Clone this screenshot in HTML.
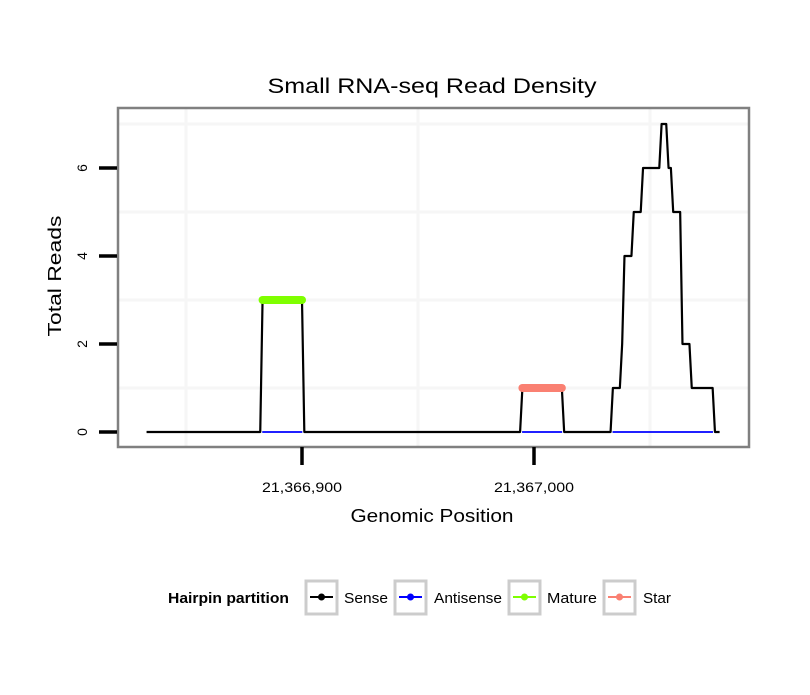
<!DOCTYPE html>
<html><head><meta charset="utf-8"><style>
body{margin:0;background:#fff}
svg text{font-family:"Liberation Sans",sans-serif}
</style></head><body>
<svg id="c" width="810" height="690" xmlns="http://www.w3.org/2000/svg">
<rect width="810" height="690" fill="#fff"/>
<g id="grid"></g>
<g id="series"></g>
<rect x="118" y="108" width="631" height="339" fill="none" stroke="#808080" stroke-width="2.5"/>
<g id="axes"></g>
<text x="432" y="93" font-size="21" text-anchor="middle" textLength="329" lengthAdjust="spacingAndGlyphs">Small RNA-seq Read Density</text>
<text x="432" y="522" font-size="18" text-anchor="middle" textLength="163" lengthAdjust="spacingAndGlyphs">Genomic Position</text>
<text x="61" y="276" font-size="18" text-anchor="middle" textLength="121" lengthAdjust="spacingAndGlyphs" transform="rotate(-90 61 276)">Total Reads</text>
<g>
<text x="168" y="603" font-size="14.5" font-weight="bold" textLength="121" lengthAdjust="spacingAndGlyphs">Hairpin partition</text>
<g><rect x="306" y="581" width="31" height="33" fill="#fff" stroke="#ccc" stroke-width="3"/><line x1="310" y1="597" x2="333" y2="597" stroke="#000" stroke-width="2"/><circle cx="321.5" cy="597" r="3.5" fill="#000"/><text x="344" y="603" font-size="14.5" textLength="44" lengthAdjust="spacingAndGlyphs">Sense</text></g>
<g><rect x="395" y="581" width="31" height="33" fill="#fff" stroke="#ccc" stroke-width="3"/><line x1="399" y1="597" x2="422" y2="597" stroke="#00f" stroke-width="2"/><circle cx="410.5" cy="597" r="3.5" fill="#00f"/><text x="434" y="603" font-size="14.5" textLength="68" lengthAdjust="spacingAndGlyphs">Antisense</text></g>
<g><rect x="509" y="581" width="31" height="33" fill="#fff" stroke="#ccc" stroke-width="3"/><line x1="513" y1="597" x2="536" y2="597" stroke="#7fff00" stroke-width="2"/><circle cx="524.5" cy="597" r="3.5" fill="#7fff00"/><text x="547" y="603" font-size="14.5" textLength="50" lengthAdjust="spacingAndGlyphs">Mature</text></g>
<g><rect x="604" y="581" width="31" height="33" fill="#fff" stroke="#ccc" stroke-width="3"/><line x1="608" y1="597" x2="631" y2="597" stroke="#fa8072" stroke-width="2"/><circle cx="619.5" cy="597" r="3.5" fill="#fa8072"/><text x="643" y="603" font-size="14.5" textLength="28" lengthAdjust="spacingAndGlyphs">Star</text></g>
</g>
</svg>
<script>
// data
const startPos = 21366833;
const endPos = 21367080;
const matureRange = [21366883, 21366900];
const matureValue = 3;
const starRange = [21366995, 21367012];
const starValue = 1;
const peakStart = 21367033;
const peakValues = [0,1,1,1,1,2,4,4,4,4,5,5,5,5,6,6,6,6,6,6,6,6,7,7,7,6,6,5,5,5,5,2,2,2,2,1,1,1,1,1,1,1,1,1,1,0,0,0];
const antisenseRanges = [[21366882,21366901],[21366994,21367013],[21367033,21367078]];
const xTicks = [21366900, 21367000];
const xTickLabels = ["21,366,900", "21,367,000"];
const yTicks = [0, 2, 4, 6];
const yMinorGrid = [1, 3, 5, 7];
const xMinorGrid = [21366850, 21366950, 21367050];

const NS = "http://www.w3.org/2000/svg";
const X = p => 302 + (p - 21366900) * 2.32;
const Y = v => 432 - v * 44;
function mk(tag, attrs, parent) {
  const e = document.createElementNS(NS, tag);
  for (const k in attrs) e.setAttribute(k, attrs[k]);
  document.getElementById(parent).appendChild(e);
  return e;
}
const sense = [];
for (let p = startPos; p <= endPos; p++) {
  let v = 0;
  if (p >= matureRange[0] && p <= matureRange[1]) v = matureValue;
  if (p >= starRange[0] && p <= starRange[1]) v = starValue;
  const i = p - peakStart;
  if (i >= 0 && i < peakValues.length) v = peakValues[i];
  sense.push([p, v]);
}
// grid (only minor lines visible, very faint)
yMinorGrid.forEach(v => {
  const g = mk("line", {x1: 118, x2: 749, y1: Y(v), y2: Y(v), stroke: "#f6f6f6", "stroke-width": 3}, "grid");
  
  
});
xMinorGrid.forEach(p => {
  const g = mk("line", {x1: X(p), x2: X(p), y1: 108, y2: 447, stroke: "#f6f6f6", "stroke-width": 3}, "grid");
  
  
});
// sense line
const sl = mk("polyline", {points: sense.map(d => X(d[0]) + "," + Y(d[1])).join(" "), fill: "none", stroke: "#000", "stroke-width": 2.2, "stroke-linejoin": "round"}, "series");


antisenseRanges.forEach(r => {
  const l = mk("line", {x1: X(r[0]) + 2, x2: X(r[1]) - 2, y1: Y(0), y2: Y(0), stroke: "#0000ff", "stroke-width": 1.8}, "series");
  
  
});
function band(range, val, color, name) {
  const l = mk("line", {x1: X(range[0]), x2: X(range[1]), y1: Y(val), y2: Y(val), stroke: color, "stroke-width": 8, "stroke-linecap": "round"}, "series");
  
  
}
band(matureRange, matureValue, "#7fff00", "mature-series");
band(starRange, starValue, "#fa8072", "star-series");
// axes
yTicks.forEach(v => {
  const t = mk("line", {x1: 99, x2: 117, y1: Y(v), y2: Y(v), stroke: "#000", "stroke-width": 3.5}, "axes");
  
  
  const tx = mk("text", {x: 87, y: Y(v), "font-size": 14, "text-anchor": "middle", transform: `rotate(-90 87 ${Y(v)})`}, "axes");
  tx.textContent = v;
  
  
});
xTicks.forEach((p, i) => {
  const t = mk("line", {x1: X(p), x2: X(p), y1: 447, y2: 465, stroke: "#000", "stroke-width": 3.5}, "axes");
  
  
  const tx = mk("text", {x: X(p), y: 492, "font-size": 14, "text-anchor": "middle", textLength: 80, lengthAdjust: "spacingAndGlyphs"}, "axes");
  tx.textContent = xTickLabels[i];
  
  
});
</script>
</body></html>
